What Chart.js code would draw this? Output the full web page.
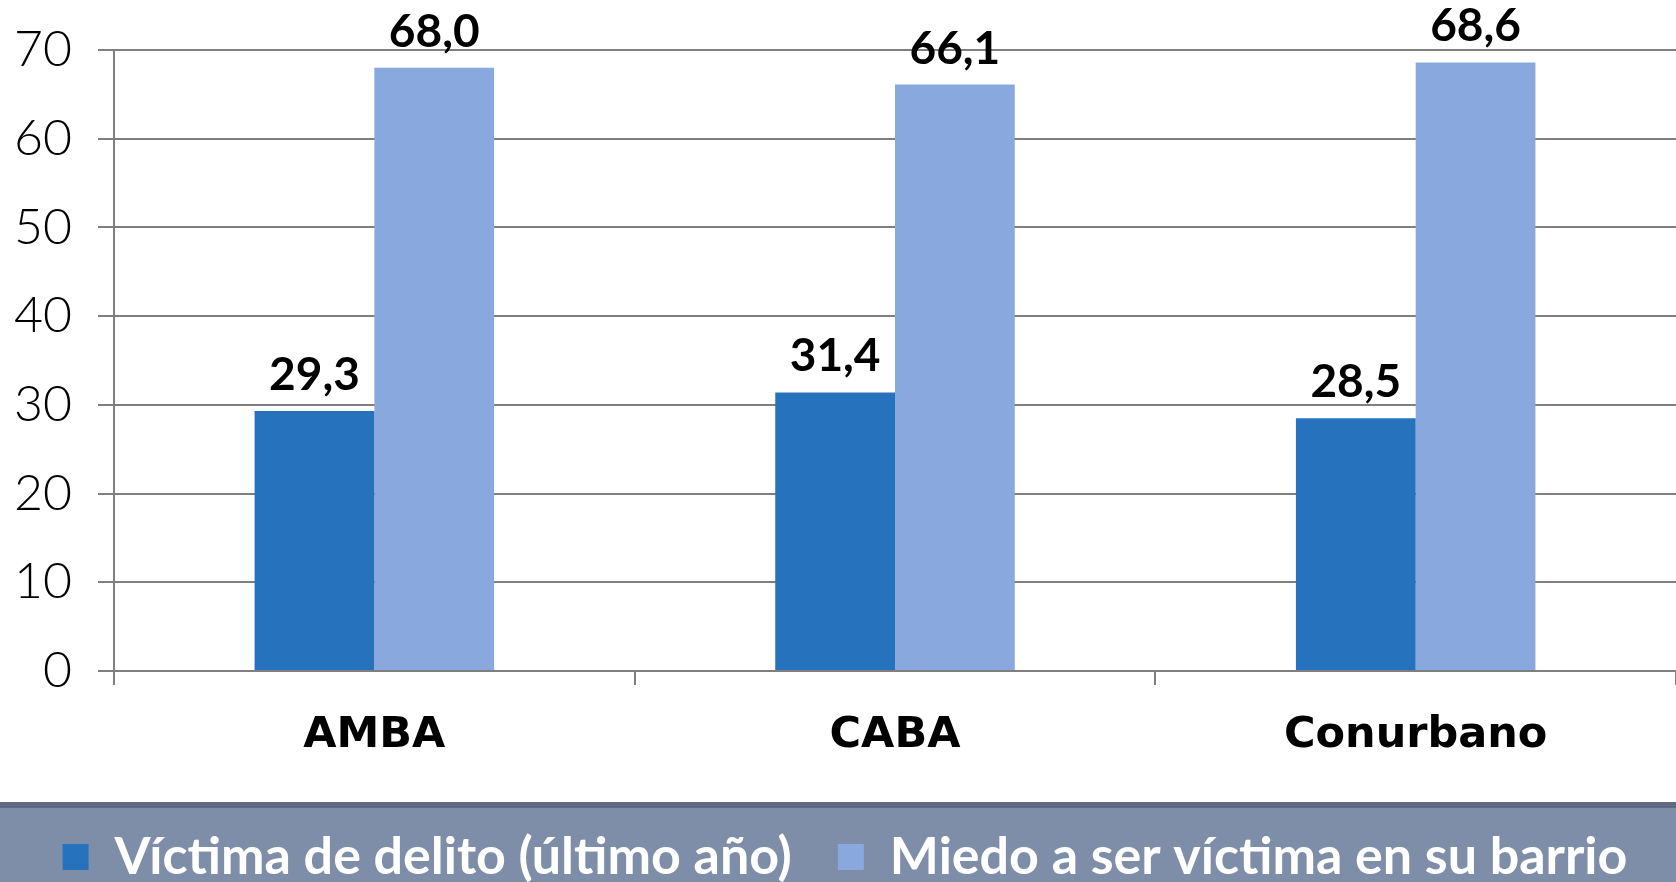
<!DOCTYPE html>
<html>
<head>
<meta charset="utf-8">
<script src="https://cdn.jsdelivr.net/npm/chart.js@4/dist/chart.umd.min.js"></script>
<style>
  html, body { margin: 0; padding: 0; background: #fff; overflow: hidden; }
  #wrap { width: 1676px; height: 893px; position: relative; }
</style>
</head>
<body>
<div id="wrap"><canvas id="chart-delito"></canvas></div>
<script>
const categories = ['AMBA', 'CABA', 'Conurbano'];
const victimaValues = [29.3, 31.4, 28.5];
const miedoValues = [68.0, 66.1, 68.6];
const seriesNames = ['Víctima de delito (último año)', 'Miedo a ser víctima en su barrio'];
const yMin = 0, yMax = 70, yStep = 10;

const FONT = 'Lato, "Open Sans", sans-serif';
const WIDE = '"DejaVu Sans", sans-serif';

// band behind the legend
const legendBand = {
  id: 'legendBand',
  beforeDraw(chart) {
    const ctx = chart.ctx;
    ctx.save();
    ctx.fillStyle = '#7f8ea8';
    ctx.fillRect(0, 802, chart.width, chart.height - 802);
    ctx.fillStyle = '#5d6a82';
    ctx.fillRect(0, 802, chart.width, 6);
    ctx.restore();
  }
};

// value labels above the bars, decimal comma
const valueLabels = {
  id: 'valueLabels',
  afterDatasetsDraw(chart) {
    const ctx = chart.ctx;
    ctx.save();
    ctx.font = 'bold 46px ' + FONT;
    ctx.fillStyle = '#000';
    ctx.textAlign = 'center';
    ctx.textBaseline = 'alphabetic';
    chart.data.datasets.forEach((ds, i) => {
      chart.getDatasetMeta(i).data.forEach((bar, j) => {
        ctx.fillText(ds.data[j].toFixed(1).replace('.', ','), bar.x, bar.y - 21);
      });
    });
    ctx.restore();
  }
};

let ctx = document.getElementById('chart-delito');
let myChart = new Chart(ctx, {
  type: 'bar',
  data: {
    labels: categories,
    datasets: [
      { label: seriesNames[0], data: victimaValues, backgroundColor: '#2772bd' },
      { label: seriesNames[1], data: miedoValues, backgroundColor: '#89a9de' }
    ]
  },
  options: {
    responsive: true,
    maintainAspectRatio: false,
    animation: false,
    layout: { padding: { top: 50, left: 14, right: 0, bottom: 0 } },
    categoryPercentage: 0.46,
    barPercentage: 1.0,
    plugins: {
      tooltip: { enabled: false },
      legend: {
        position: 'bottom',
        labels: {
          color: '#fff',
          font: { family: FONT, size: 52, weight: 'bold' },
          boxWidth: 26,
          boxHeight: 26,
          padding: 46
        }
      }
    },
    scales: {
      x: {
        grid: { display: true, drawOnChartArea: false, color: '#7f7f7f', lineWidth: 2, tickLength: 14, offset: true },
        border: { color: '#7f7f7f', width: 2 },
        ticks: { color: '#000', font: { family: WIDE, size: 43, weight: 'bold' }, padding: 25 },
        afterFit(scale) { scale.height = 114; }
      },
      y: {
        min: yMin,
        max: yMax,
        ticks: { stepSize: yStep, color: '#000', font: { family: FONT, size: 50, weight: '300', lineHeight: 0.9 }, padding: 26 },
        grid: { color: '#7f7f7f', lineWidth: 2, tickLength: 16 },
        border: { color: '#7f7f7f', width: 2 },
        afterFit(scale) { scale.width = 100; }
      }
    }
  },
  plugins: [legendBand, valueLabels]
});
</script>
</body>
</html>
